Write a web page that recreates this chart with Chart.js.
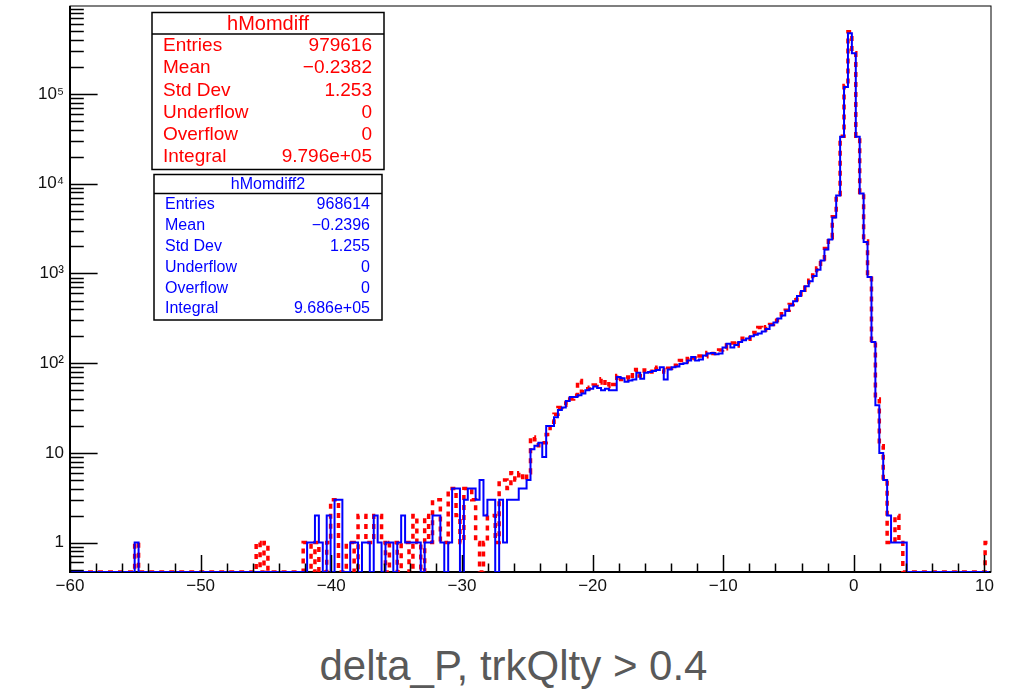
<!DOCTYPE html>
<html>
<head>
<meta charset="utf-8">
<title>delta_P, trkQlty &gt; 0.4</title>
<script src="https://cdn.jsdelivr.net/npm/chart.js@4.4.1/dist/chart.umd.min.js"></script>
<style>
  html, body { margin: 0; padding: 0; background: #fff; }
  #page { position: relative; width: 1015px; height: 695px; overflow: hidden; }
  #plot { position: absolute; left: 0; top: 0; width: 1015px; height: 600px; }
  #caption {
    position: absolute; left: 0; top: 645px; width: 1003px; padding-left: 12px;
    text-align: center; font-family: "Liberation Sans", Arial, sans-serif;
    font-size: 42px; line-height: 42px; color: #595959;
  }
</style>
</head>
<body>
<div id="page">
  <div id="plot"><canvas id="chart"></canvas></div>
  <div id="caption">delta_P, trkQlty &gt; 0.4</div>
</div>
<script>
// histogram binning: 0.3 wide bins, first low edge
const binLow = -60.15;
const binWidth = 0.3;

// hMomdiff2 (blue, solid) bin contents, 10 bins per row
const countsBlue = [
  0,0,0,0,0,0,0,0,0,0,
  0,0,0,0,0,0,0,1,0,0,
  0,0,0,0,0,0,0,0,0,0,
  0,0,0,0,0,0,0,0,0,0,
  0,0,0,0,0,0,0,0,0,0,
  0,0,0,0,0,0,0,0,0,0,
  0,1,1,2,1,0,2,0,3,3,
  0,0,1,1,0,1,1,0,2,1,
  0,1,1,0,1,2,1,1,1,1,
  0,1,1,2,2,1,0,1,4,4,
  0,3,4,4,3,5,2,3,3,0,
  3,1,3,3,3,4,4,5,11,12,
  13,9,20,20,25,30,32,38,42,42,
  44,46,50,52,55,53,50,52,50,50,
  70,68,62,64,66,78,67,78,80,82,
  84,90,66,85,90,92,98,100,107,117,
  107,110,122,128,130,126,128,150,165,150,
  160,172,180,188,200,208,214,225,240,265,
  285,315,340,385,440,490,560,640,720,820,
  940,1100,1400,1850,2400,4200,7400,33400,120000,476000,
  285000,33400,7800,2240,915,172,34,10,5,2,
  1,1,1,1,0,0,0,0,0,0,
  0,0,0,0,0,0,0,0,0,0,
  0,0,0,0,0
];

// hMomdiff (red, dashed) bin contents
const countsRed = [
  0,0,0,0,0,0,0,0,0,0,
  0,0,0,0,0,0,0,1,0,0,
  0,0,0,0,0,0,0,0,0,0,
  0,0,0,0,0,0,0,0,0,0,
  0,0,0,0,0,0,0,0,1,0,
  1,0,0,0,0,0,0,0,0,0,
  1,1,0,1,0,0,1,3,3,0,
  0,1,1,0,2,2,1,1,2,2,
  1,0,1,1,0,1,1,0,2,1,
  0,2,1,3,3,1,1,4,4,2,
  1,4,4,3,1,0,1,2,2,1,
  5,5,4,6,5,6,5,6,15,14,
  12,13,16,22,27,32,34,36,40,44,
  64,48,52,54,57,60,67,55,62,58,
  73,66,70,66,85,72,76,84,80,90,
  86,85,80,88,95,94,107,104,118,114,
  112,120,118,132,128,135,140,145,160,168,
  155,175,190,185,215,220,250,235,255,270,
  300,325,355,390,450,510,580,650,740,840,
  960,1150,1450,1900,2500,4300,7600,34000,125000,496000,
  290000,34000,8000,2300,950,180,40,12,5,1,
  1,2,1,0,0,0,0,0,0,0,
  0,0,0,0,0,0,0,0,0,0,
  0,0,0,0,1
];

const xTickValues = [-60, -50, -40, -30, -20, -10, 0, 10];
const xTickLabels = ['\u221260', '\u221250', '\u221240', '\u221230', '\u221220', '\u221210', '0', '10'];
const yTickValues = [1, 10, 100, 1000, 10000, 100000];
const yTickLabels = ['1', '10', '10\u00B2', '10\u00B3', '10\u2074', '10\u2075'];
const yMin = 0.47;
const yMax = 9.6e5;

const statNames = ['Entries', 'Mean', 'Std Dev', 'Underflow', 'Overflow', 'Integral'];
const statsRed = ['979616', '\u22120.2382', '1.253', '0', '0', '9.796e+05'];
const statsBlue = ['968614', '\u22120.2396', '1.255', '0', '0', '9.686e+05'];

const fontFamily = '"Liberation Sans", Arial, Helvetica, sans-serif';

// empty bins sit on the bottom of the frame, like ROOT draws them
function toPoints(counts) {
  const pts = counts.map((c, i) => ({ x: binLow + i * binWidth, y: c > 0 ? c : yMin }));
  pts.push({ x: binLow + counts.length * binWidth, y: pts[pts.length - 1].y });
  return pts;
}

function drawStats(ctx, box, title, values, color) {
  ctx.fillStyle = '#fff';
  ctx.fillRect(box.x, box.y, box.w, box.h);
  ctx.strokeStyle = '#000';
  ctx.lineWidth = 1.5;
  ctx.strokeRect(box.x, box.y, box.w, box.h);
  ctx.beginPath();
  ctx.moveTo(box.x, box.y + box.head);
  ctx.lineTo(box.x + box.w, box.y + box.head);
  ctx.stroke();

  ctx.fillStyle = color;
  ctx.textBaseline = 'middle';
  ctx.textAlign = 'center';
  ctx.font = box.titleSize + 'px ' + fontFamily;
  ctx.fillText(title, box.x + box.w / 2, box.y + box.head / 2 + 1);
  ctx.font = box.size + 'px ' + fontFamily;
  statNames.forEach((name, i) => {
    const ty = box.row0 + i * box.step;
    ctx.textAlign = 'left';
    ctx.fillText(name, box.x + 11, ty);
    ctx.textAlign = 'right';
    ctx.fillText(values[i], box.x + box.w - 12, ty);
  });
}

const rootFrame = {
  id: 'rootFrame',
  beforeDatasetsDraw(chart) {
    const { ctx, chartArea: a } = chart;
    ctx.save();
    ctx.strokeStyle = '#000';
    ctx.lineWidth = 1;
    ctx.strokeRect(a.left, a.top, a.right - a.left, a.bottom - a.top);
    ctx.lineWidth = 2;
    ctx.beginPath();
    ctx.moveTo(a.left, a.top);
    ctx.lineTo(a.left, a.bottom);
    ctx.lineTo(a.right, a.bottom);
    ctx.stroke();
    ctx.restore();
  },
  afterDatasetsDraw(chart) {
    // ticks point into the frame
    const { ctx, chartArea: a, scales: { x, y } } = chart;
    ctx.save();
    ctx.strokeStyle = '#000';
    ctx.lineWidth = 1.5;
    ctx.beginPath();
    for (let v = -60; v <= 10.5; v += 2) {
      const px = Math.round(x.getPixelForValue(v)) + 0.5;
      const len = v % 10 === 0 ? 17 : 8.5;
      ctx.moveTo(px, a.bottom);
      ctx.lineTo(px, a.bottom - len);
    }
    for (let e = -1; e <= 5; e++) {
      for (let m = 1; m <= 9; m++) {
        const v = m * Math.pow(10, e);
        if (v < yMin || v > yMax) continue;
        const py = Math.round(y.getPixelForValue(v)) + 0.5;
        const len = m === 1 ? 27.6 : 13.8;
        ctx.moveTo(a.left, py);
        ctx.lineTo(a.left + len, py);
      }
    }
    ctx.stroke();
    ctx.restore();
  },
  afterDraw(chart) {
    const ctx = chart.ctx;
    ctx.save();
    drawStats(ctx, { x: 152, y: 12.5, w: 232, h: 157, head: 21.5, row0: 46, step: 22.2, size: 19, titleSize: 20 },
      'hMomdiff', statsRed, '#ff0000');
    drawStats(ctx, { x: 154, y: 174.5, w: 228, h: 145.5, head: 19, row0: 204.5, step: 20.9, size: 16, titleSize: 16 },
      'hMomdiff2', statsBlue, '#0000ff');
    ctx.restore();
  }
};

function createChart() {
  new Chart(document.getElementById('chart'), {
    type: 'line',
    data: {
      datasets: [{
        label: 'hMomdiff2',
        data: toPoints(countsBlue),
        borderColor: '#0000ff',
        borderWidth: 2,
        stepped: 'before',
        pointRadius: 0,
        order: 0
      }, {
        label: 'hMomdiff',
        data: toPoints(countsRed),
        borderColor: '#ff0000',
        borderWidth: 3.5,
        borderDash: [5, 5],
        stepped: 'before',
        pointRadius: 0,
        order: 1
      }]
    },
    options: {
      responsive: true,
      maintainAspectRatio: false,
      animation: false,
      layout: { padding: { top: 6, right: 24, left: 0, bottom: 0 } },
      plugins: { legend: { display: false }, tooltip: { enabled: false } },
      scales: {
        x: {
          type: 'linear',
          min: -60,
          max: 10.5,
          grid: { display: false, drawTicks: false },
          border: { display: false },
          afterBuildTicks: s => { s.ticks = xTickValues.map(v => ({ value: v })); },
          afterFit: s => { s.height = 28; s.paddingLeft = 0; s.paddingRight = 0; },
          ticks: {
            padding: 4,
            autoSkip: false,
            maxRotation: 0,
            color: '#111',
            font: { family: fontFamily, size: 17 },
            callback: v => xTickLabels[xTickValues.indexOf(v)]
          }
        },
        y: {
          type: 'logarithmic',
          min: yMin,
          max: yMax,
          grid: { display: false, drawTicks: false },
          border: { display: false },
          afterBuildTicks: s => { s.ticks = yTickValues.map(v => ({ value: v })); },
          afterFit: s => { s.width = 70; s.paddingTop = 0; s.paddingBottom = 0; },
          ticks: {
            padding: 6,
            color: '#111',
            font: { family: fontFamily, size: 17 },
            callback: v => yTickLabels[yTickValues.indexOf(v)]
          }
        }
      }
    },
    plugins: [rootFrame]
  });
}

createChart();
</script>
</body>
</html>
